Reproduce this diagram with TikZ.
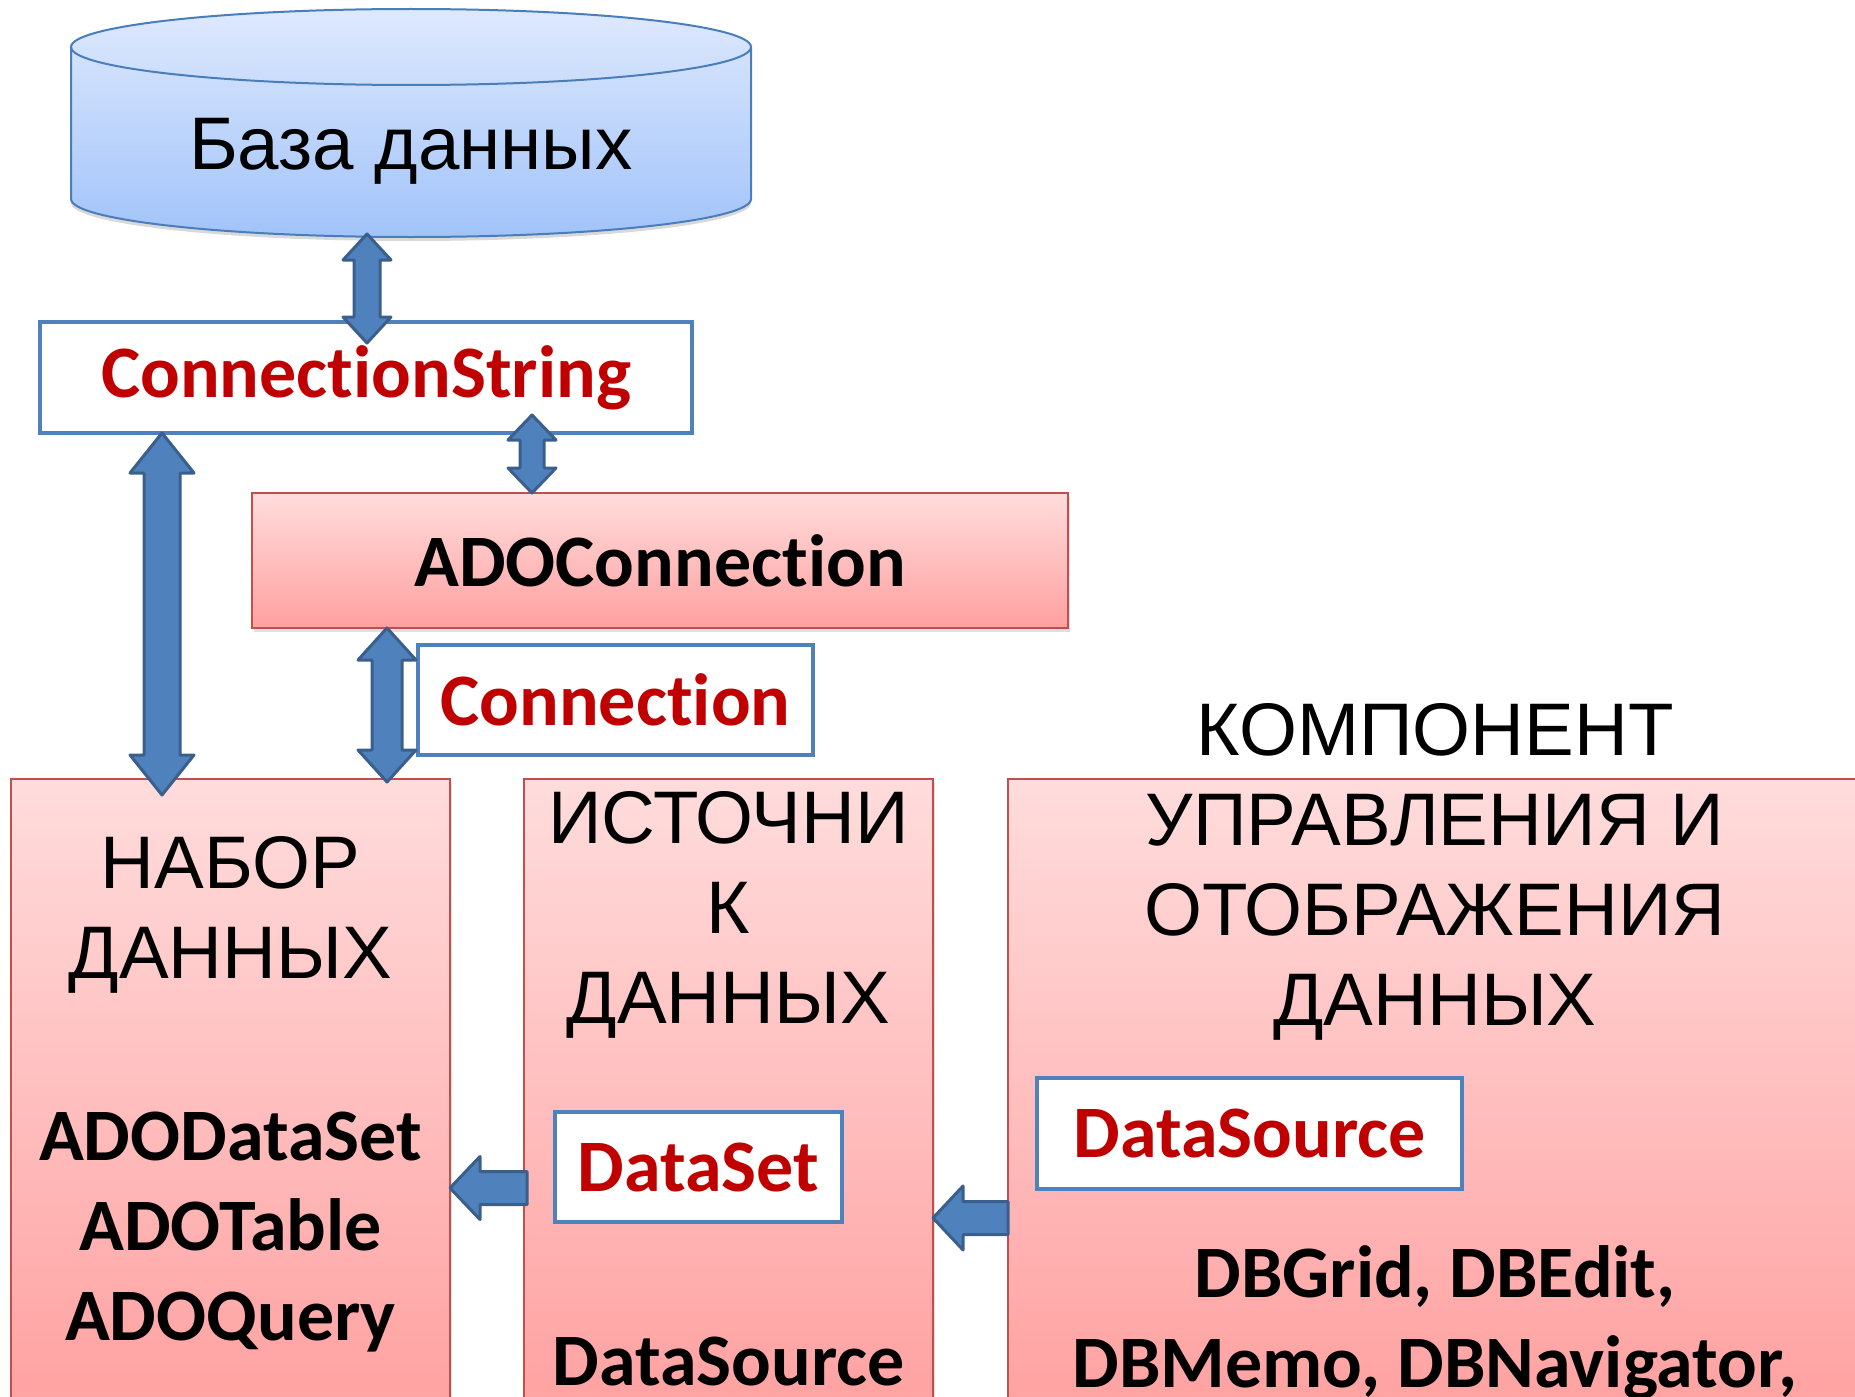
\documentclass[tikz,border=0pt]{standalone}
\usepackage{fontspec}
\setmainfont{Liberation Sans}
\newfontfamily\calfont[Ligatures={NoCommon,NoContextual,NoRequired},Contextuals=NoAlternate]{Carlito}
\usetikzlibrary{calc,shadows}

\definecolor{pinktop}{HTML}{FFDCDC}
\definecolor{pinkbot}{HTML}{FFA0A0}
\definecolor{pinkline}{HTML}{C0504D}
\definecolor{dbtop}{HTML}{DEE9FD}
\definecolor{dbbot}{HTML}{A1C3F9}
\definecolor{dbline}{HTML}{4A7EBB}
\definecolor{arrowfill}{HTML}{4F81BD}
\definecolor{arrowline}{HTML}{3A5F8C}
\definecolor{propblue}{HTML}{4F81BD}
\definecolor{propred}{HTML}{C00000}

% vertical two-headed block arrow: top, bottom, shaft half, head half, head length
\newcommand{\vdarrow}[5]{%
  \path[blockarrow] let \p1=(#1), \p2=(#2) in
    (\x1,\y1) -- (\x1+#4,\y1-#5) -- (\x1+#3,\y1-#5) -- (\x1+#3,\y2+#5)
    -- (\x1+#4,\y2+#5) -- (\x1,\y2) -- (\x1-#4,\y2+#5) -- (\x1-#3,\y2+#5)
    -- (\x1-#3,\y1-#5) -- (\x1-#4,\y1-#5) -- cycle;}
% left-pointing block arrow: tip, tail, shaft half, head half, head length
\newcommand{\larrow}[5]{%
  \path[blockarrow] let \p1=(#1), \p2=(#2) in
    (\x1,\y1) -- (\x1+#5,\y1+#4) -- (\x1+#5,\y1+#3) -- (\x2,\y1+#3)
    -- (\x2,\y1-#3) -- (\x1+#5,\y1-#3) -- (\x1+#5,\y1-#4) -- cycle;}

\tikzset{
  bigtext/.style={font=\fontsize{74.5}{90}\selectfont, align=center, inner sep=0pt},
  boldtext/.style={font=\calfont\bfseries\fontsize{74}{90}\selectfont, align=center, inner sep=0pt},
  pinkbox/.style={draw=pinkline, line width=2pt, top color=pinktop, bottom color=pinkbot,
    inner sep=0pt, drop shadow={opacity=0.25, shadow xshift=2pt, shadow yshift=-4pt}},
  propbox/.style={draw=propblue, line width=4pt, fill=white, text=propred, inner sep=0pt,
    font=\calfont\bfseries\fontsize{74}{90}\selectfont},
  blockarrow/.style={fill=arrowfill, draw=arrowline, line width=3pt, line join=round}
}

\begin{document}
\begin{tikzpicture}[x=1pt, y=-1pt]
\clip (0,0) rectangle (1855,1397);

% database
\path[draw=dbline, line width=2pt, top color=dbtop, bottom color=dbbot,
      drop shadow={opacity=0.3, shadow xshift=0pt, shadow yshift=-4pt}]
  (71,47) -- (71,199) arc[start angle=180, end angle=360, x radius=340pt, y radius=38pt]
  -- (751,47) arc[start angle=0, end angle=180, x radius=340pt, y radius=38pt] -- cycle;
\draw[dbline, line width=2pt] (751,47) arc[start angle=0, end angle=-180, x radius=340pt, y radius=38pt];
\node[bigtext, anchor=base] (db) at (411,169) {База данных};

% components
\node[pinkbox, boldtext, minimum width=816pt, minimum height=135pt] (adoc) at (660,560.5) {ADOConnection};
\node[pinkbox, minimum width=439pt, minimum height=642pt, anchor=north] (nabor) at (230.5,778) {};
\node[pinkbox, minimum width=409pt, minimum height=642pt, anchor=north] (ist) at (728.5,778) {};
\node[pinkbox, minimum width=854pt, minimum height=642pt, anchor=north] (komp) at (1435,778) {};

\node[bigtext, anchor=north] (naborT) at (nabor.north |- 0,836) {НАБОР\\ДАННЫХ};
\node[boldtext, anchor=north] (naborL) at (nabor.north |- 0,1112) {ADODataSet\\ADOTable\\ADOQuery};
\node[bigtext, anchor=north] (istT) at (ist.north |- 0,791) {ИСТОЧНИ\\К\\ДАННЫХ};
\node[boldtext, anchor=north] (istL) at (ist.north |- 0,1337) {DataSource};
\node[bigtext, anchor=north] (kompT) at (komp.north |- 0,703) {КОМПОНЕНТ\\УПРАВЛЕНИЯ И\\ОТОБРАЖЕНИЯ\\ДАННЫХ};
\node[boldtext, anchor=north] (kompL) at (komp.north |- 0,1245) {DBGrid, DBEdit,\\DBMemo, DBNavigator,};

% properties
\node[propbox, minimum width=652pt, minimum height=111pt] (cs) at (366,377.5) {ConnectionString};
\node[propbox, minimum width=395pt, minimum height=110pt] (conn) at (615.5,700) {Connection};
\node[propbox, minimum width=287pt, minimum height=110pt] (dset) at (698.5,1167) {DataSet};
\node[propbox, minimum width=425pt, minimum height=111pt] (dsrc) at (1249.5,1133.5) {DataSource};

% arrow ends
\coordinate (dbA) at (367,234);  \coordinate (csA) at (367,343);
\coordinate (csB) at (532,415);  \coordinate (adocB) at (532,493);
\coordinate (csC) at (162,433);  \coordinate (naborC) at (162,795);
\coordinate (adocD) at (387,628); \coordinate (naborD) at (387,782);
\coordinate (naborE) at (450,1188); \coordinate (istE) at (527,1188);
\coordinate (istF) at (933,1218); \coordinate (kompF) at (1008,1218);

% arrows
\vdarrow{dbA}{csA}{13pt}{24pt}{26pt}
\vdarrow{csB}{adocB}{12pt}{24pt}{25pt}
\vdarrow{csC}{naborC}{18pt}{32pt}{40pt}
\vdarrow{adocD}{naborD}{15pt}{29pt}{32pt}
\larrow{naborE}{istE}{16.5pt}{31.5pt}{30pt}
\larrow{istF}{kompF}{16.5pt}{32pt}{30pt}
\end{tikzpicture}
\end{document}
